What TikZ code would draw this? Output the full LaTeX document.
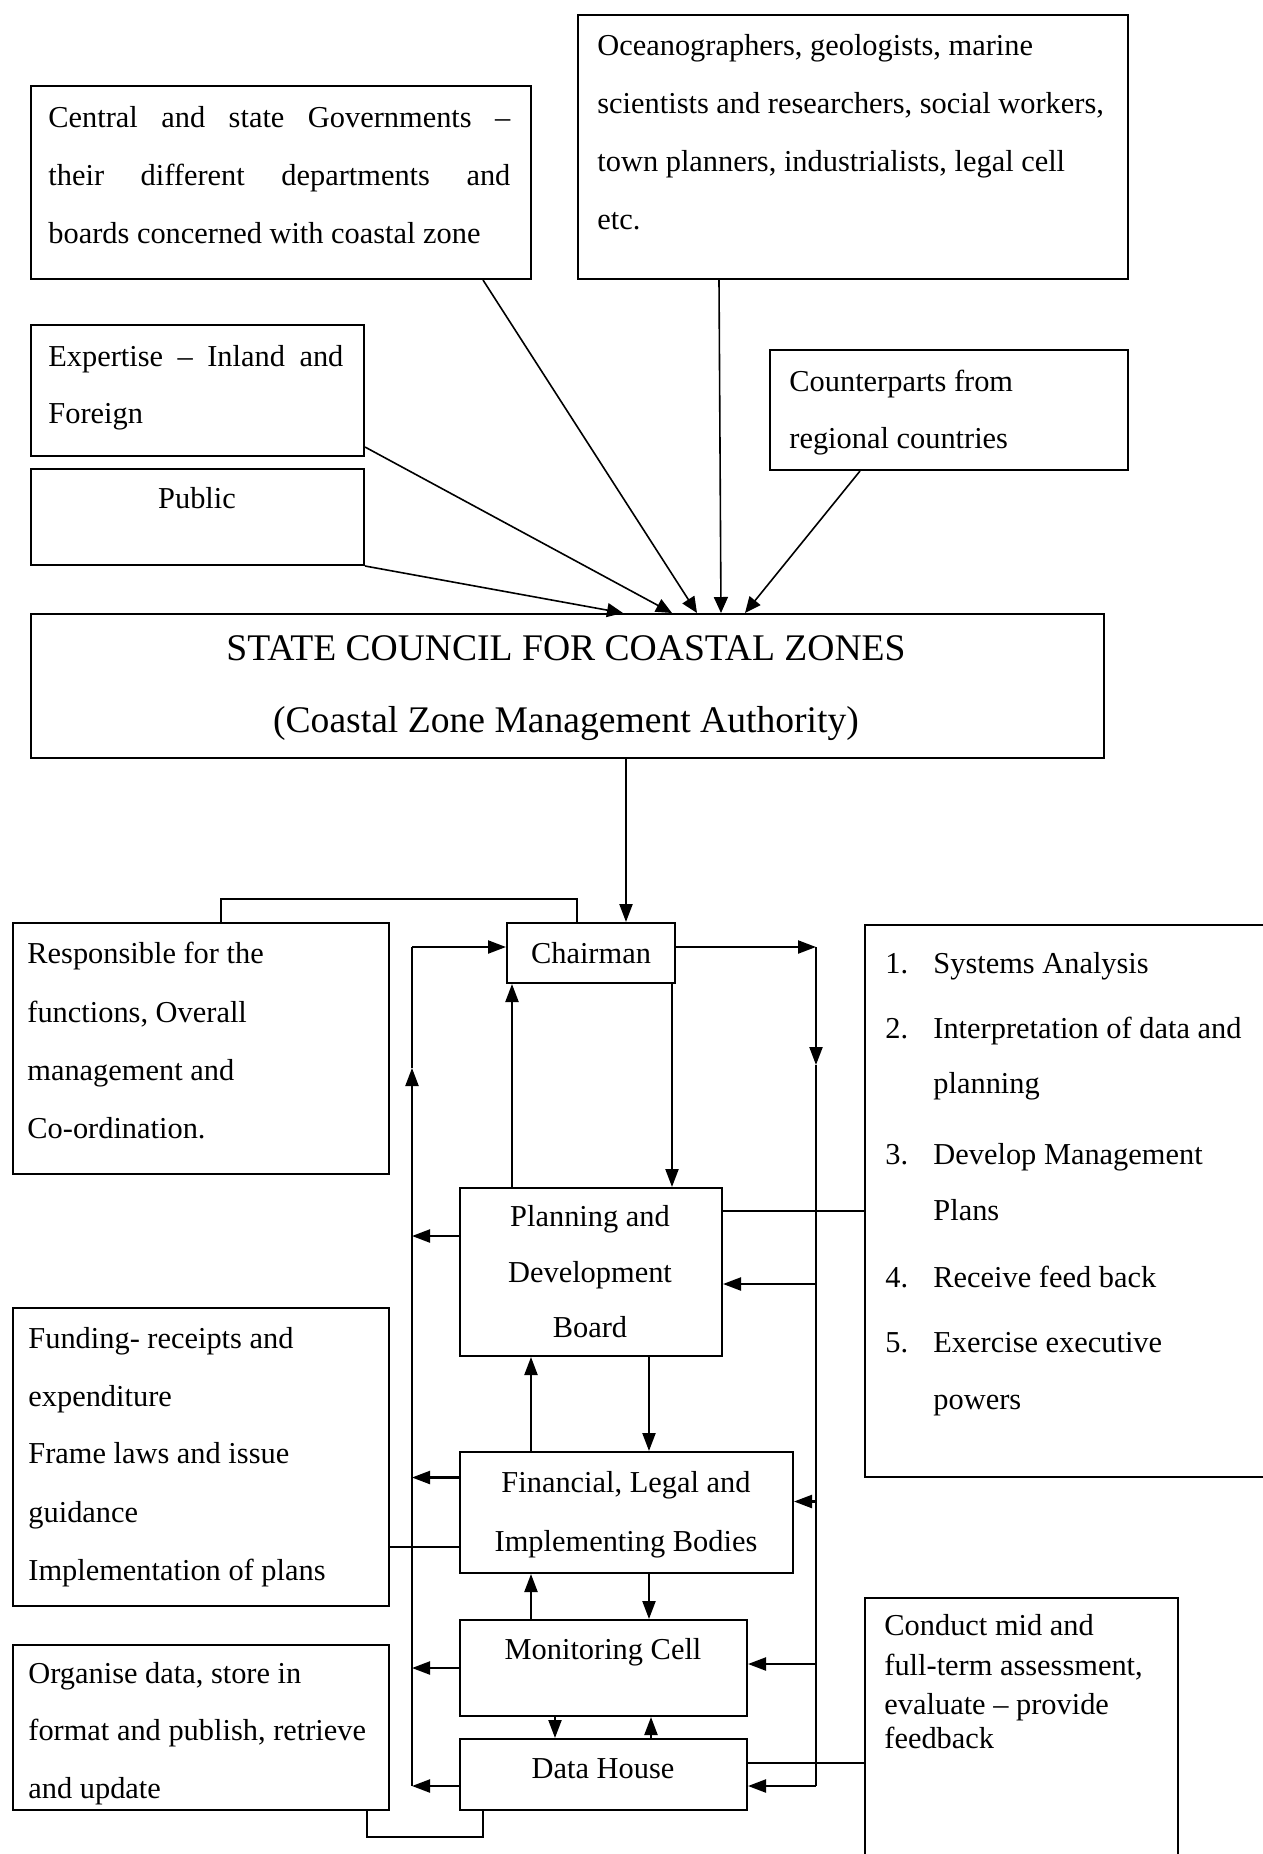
\documentclass[tikz,border=0pt]{standalone}
\usepackage{fontspec}
\setmainfont{Liberation Serif}
\usetikzlibrary{calc,arrows.meta}
\newcommand\bx[5]{\node[box, minimum width={(#4-#2)*0.5pt}, minimum height={(#5-#3)*0.5pt}] (#1) at (#2,#3) {};}
\newcommand\lns[3]{\foreach \ly/\lx [count=\i] in {#3} {\node[txt] (#1-\i) at (#2,\ly) {\lx};}}
\begin{document}
\begin{tikzpicture}[x=0.5pt,y=-0.5pt,
  box/.style={draw, line width=1pt, inner sep=0pt, anchor=north west},
  txt/.style={anchor=base west, inner sep=0pt, font=\fontsize{15.2}{17}\selectfont},
  ctxt/.style={anchor=base, inner sep=0pt, font=\fontsize{15.2}{17}\selectfont},
  big/.style={anchor=base, inner sep=0pt, font=\fontsize{18.8}{21}\selectfont},
  thinarr/.style={line width=0.8pt, -{Triangle[length=8pt,width=7pt]}},
  conn/.style={line width=1.1pt},
  arr/.style={conn, -{Triangle[length=9pt,width=6.5pt]}},
]
\useasboundingbox (0,0) rectangle (1263,1854);
% boxes
\bx{gov}{30}{85}{530}{278}
\bx{ocean}{577}{14}{1127}{278}
\bx{expert}{30}{324}{363}{455}
\bx{public}{30}{468}{363}{564}
\bx{counter}{769}{349}{1127}{469}
\bx{council}{30}{613}{1103}{757}
\bx{resp}{12}{922}{388}{1173}
\bx{chair}{506}{922}{674}{982}
\bx{list}{864}{924}{1290}{1476}
\bx{plan}{459}{1187}{721}{1355}
\bx{fin}{459}{1451}{792}{1572}
\bx{mon}{459}{1619}{746}{1715}
\bx{data}{459}{1738}{746}{1809}
\bx{fund}{12}{1307}{388}{1605}
\bx{org}{12}{1644}{388}{1809}
\bx{conduct}{864}{1597}{1177}{1890}
% texts
\lns{govt}{48}{127/{\makebox[231pt][s]{Central and state Governments --}},185/{\makebox[231pt][s]{their different departments and}},243/{boards concerned with coastal zone}}
\lns{oceant}{597}{55/{Oceanographers, geologists, marine},113/{scientists and researchers, social workers,},171/{town planners, industrialists, legal cell},229/{etc.}}
\lns{expertt}{48}{366/{\makebox[147.5pt][s]{Expertise -- Inland and}},423/{Foreign}}
\node[ctxt] (publict) at (197,508) {Public};
\lns{countert}{789}{391/{Counterparts from},448/{regional countries}}
\node[big] (councilt1) at (566,660) {STATE COUNCIL FOR COASTAL ZONES};
\node[big] (councilt2) at (566,732) {(Coastal Zone Management Authority)};
\lns{respt}{27}{963/{Responsible for the},1022/{functions, Overall},1080/{management and},1138/{Co-ordination.}}
\node[ctxt] (chairt) at (591,963) {Chairman};
\lns{listn}{885}{973/{1.},1038/{2.},1164/{3.},1287/{4.},1352/{5.}}
\lns{listt}{933}{973/{Systems Analysis},1038/{Interpretation of data and},1093/{planning},1164/{Develop Management},1220/{Plans},1287/{Receive feed back},1352/{Exercise executive},1409/{powers}}
\node[ctxt] (plant1) at (590,1226) {Planning and};
\node[ctxt] (plant2) at (590,1282) {Development};
\node[ctxt] (plant3) at (590,1337) {Board};
\node[ctxt] (fint1) at (626,1492) {Financial, Legal and};
\node[ctxt] (fint2) at (626,1551) {Implementing Bodies};
\node[ctxt] (mont) at (603,1659) {Monitoring Cell};
\node[ctxt] (datat) at (603,1778) {Data House};
\lns{fundt}{28}{1348/{Funding- receipts and},1406/{expenditure},1463/{Frame laws and issue},1522/{guidance},1580/{Implementation of plans}}
\lns{orgt}{28}{1683/{Organise data, store in},1740/{format and publish, retrieve},1798/{and update}}
\lns{conductt}{884}{1635/{Conduct mid and},1675/{full-term assessment,},1714/{evaluate -- provide},1748/{feedback}}
% top connectors
\draw[thinarr] ($(gov.south west)+(453,0)$) -- ($(council.north west)+(667,0)$);
\draw[thinarr] ($(ocean.south west)+(142,0)$) -- ($(council.north west)+(691,0)$);
\draw[thinarr] ($(expert.south east)+(0,-10)$) -- ($(council.north west)+(642,0)$);
\draw[thinarr] (public.south east) -- ($(council.north west)+(593,0)$);
\draw[thinarr] ($(counter.south west)+(91,0)$) -- ($(council.north west)+(715,0)$);
% lower connectors
\draw[arr] ($(council.south west)+(596,0)$) -- ($(chair.north west)+(120,0)$);
\draw[conn] ($(resp.north west)+(209,0)$) -- ++(0,-23) -| ($(chair.north west)+(71,0)$);
\coordinate (lbt) at (412,947);
\coordinate (lbm) at (412,1068);
\coordinate (lbb) at (412,1786);
\coordinate (rbt) at (816,947);
\coordinate (rbm) at (816,1065);
\coordinate (rbb) at (816,1786);
% left bus
\draw[arr] (lbb) -- (lbm);
\draw[conn] (lbm) -- (lbt);
\draw[arr] (lbt) -- (chair.west |- lbt);
\path ($(plan.west)+(0,-36)$) coordinate (pl);
\draw[arr] (pl) -- (pl -| lbt);
\path ($(fin.west)+(0,-35)$) coordinate (fl);
\draw[arr] (fl) -- (fl -| lbt);
\draw[arr] (mon.west) -- (mon.west -| lbt);
\draw[arr] (data.west |- lbb) -- (lbb);
% right bus
\draw[arr] (chair.east |- rbt) -- (rbt);
\draw[arr] (rbt) -- (rbm);
\draw[conn] (rbm) -- (rbb);
\path ($(plan.east)+(0,12)$) coordinate (pr);
\draw[arr] (pr -| rbt) -- (pr);
\path ($(fin.east)+(0,-11)$) coordinate (fr);
\draw[arr] (fr -| rbt) -- (fr);
\path ($(mon.east)+(0,-4)$) coordinate (mr);
\draw[arr] (mr -| rbt) -- (mr);
\draw[arr] (rbb) -- (data.east |- rbb);
% vertical links
\path ($(chair.south east)+(-4,0)$) coordinate (v1);
\draw[arr] (v1) -- (v1 |- plan.north);
\path ($(plan.north west)+(53,0)$) coordinate (v2);
\draw[arr] (v2) -- (v2 |- chair.south);
\path ($(plan.south west)+(190,0)$) coordinate (v3);
\draw[arr] (v3) -- (v3 |- fin.north);
\path ($(fin.north west)+(72,0)$) coordinate (v4);
\draw[arr] (v4) -- (v4 |- plan.south);
\path ($(fin.south west)+(190,0)$) coordinate (v5);
\draw[arr] (v5) -- (v5 |- mon.north);
\path ($(mon.north west)+(72,0)$) coordinate (v6);
\draw[arr] (v6) -- (v6 |- fin.south);
\path ($(mon.south west)+(96,0)$) coordinate (v7);
\draw[arr] (v7) -- (v7 |- data.north);
\path ($(data.north west)+(192,0)$) coordinate (v8);
\draw[arr] (v8) -- (v8 |- mon.south);
% plain lines
\path ($(plan.north east)+(0,24)$) coordinate (h1);
\draw[conn] (h1) -- (h1 -| list.west);
\path ($(data.north east)+(0,25)$) coordinate (h2);
\draw[conn] (h2) -- (h2 -| conduct.west);
\path ($(fund.north east)+(0,240)$) coordinate (h3);
\draw[conn] (h3) -- (h3 -| fin.west);
\draw[conn] ($(org.south east)+(-23,0)$) -- ++(0,26) -| ($(data.south west)+(24,0)$);
\end{tikzpicture}
\end{document}
